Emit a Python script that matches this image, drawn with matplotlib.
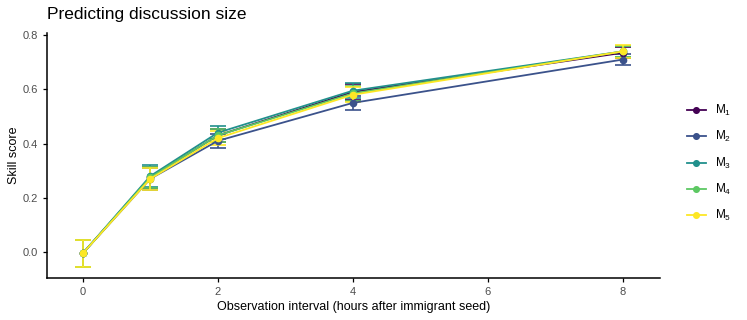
import matplotlib
matplotlib.use("Agg")
import matplotlib.pyplot as plt

plt.rcParams['font.family'] = ['Liberation Sans', 'DejaVu Sans']

# Data
hours = [0, 1, 2, 4, 8]
models = ["M1", "M2", "M3", "M4", "M5"]
labels = [r"$\mathregular{M_1}$", r"$\mathregular{M_2}$", r"$\mathregular{M_3}$",
          r"$\mathregular{M_4}$", r"$\mathregular{M_5}$"]
scores = {
    "M1": [-0.005, 0.275, 0.43, 0.590, 0.735],
    "M2": [-0.005, 0.270, 0.41, 0.550, 0.710],
    "M3": [-0.005, 0.280, 0.44, 0.595, 0.740],
    "M4": [-0.005, 0.275, 0.43, 0.585, 0.740],
    "M5": [-0.005, 0.270, 0.42, 0.580, 0.740],
}
errors = {
    "M1": [0.050, 0.040, 0.025, 0.028, 0.020],
    "M2": [0.050, 0.040, 0.025, 0.025, 0.020],
    "M3": [0.050, 0.040, 0.025, 0.028, 0.020],
    "M4": [0.050, 0.040, 0.025, 0.028, 0.020],
    "M5": [0.050, 0.040, 0.025, 0.028, 0.025],
}
colors = ["#440154", "#3B528B", "#21908C", "#5DC863", "#FDE725"]

fig = plt.figure(figsize=(7.47, 3.2), dpi=100)
ax = fig.add_axes([0.0629, 0.13125, 0.8206, 0.7657])

handles = []
for m, lab, c in zip(models, labels, colors):
    ax.errorbar(hours, scores[m], yerr=errors[m], color=c, lw=1.2,
                capsize=6, capthick=1.2, elinewidth=1.2, fmt='none', zorder=2)
    h, = ax.plot(hours, scores[m], color=c, lw=1.3, marker='o', ms=4.5,
                 label=lab, zorder=3)
    handles.append(h)

ax.set_xlim(-0.53, 8.55)
ax.set_ylim(-0.096, 0.808)
ax.set_xticks([0, 2, 4, 6, 8])
ax.set_yticks([0.0, 0.2, 0.4, 0.6, 0.8])
ax.set_yticklabels(["0.0", "0.2", "0.4", "0.6", "0.8"])
for s in ["top", "right"]:
    ax.spines[s].set_visible(False)
for s in ["left", "bottom"]:
    ax.spines[s].set_linewidth(1.1)
ax.tick_params(labelsize=8, labelcolor="#4D4D4D", length=3, width=0.9)
ax.set_xlabel("Observation interval (hours after immigrant seed)", fontsize=9, labelpad=3)
ax.set_ylabel("Skill score", fontsize=9, labelpad=2)
fig.text(0.0629, 0.94, "Predicting discussion size", fontsize=12.5)

fig.legend(handles=handles, loc="center left", bbox_to_anchor=(0.905, 0.49),
           frameon=False, fontsize=8.5, handlelength=1.6, labelspacing=0.95,
           handletextpad=0.8, markerscale=0.9)

fig.savefig("out.png", dpi=100)
